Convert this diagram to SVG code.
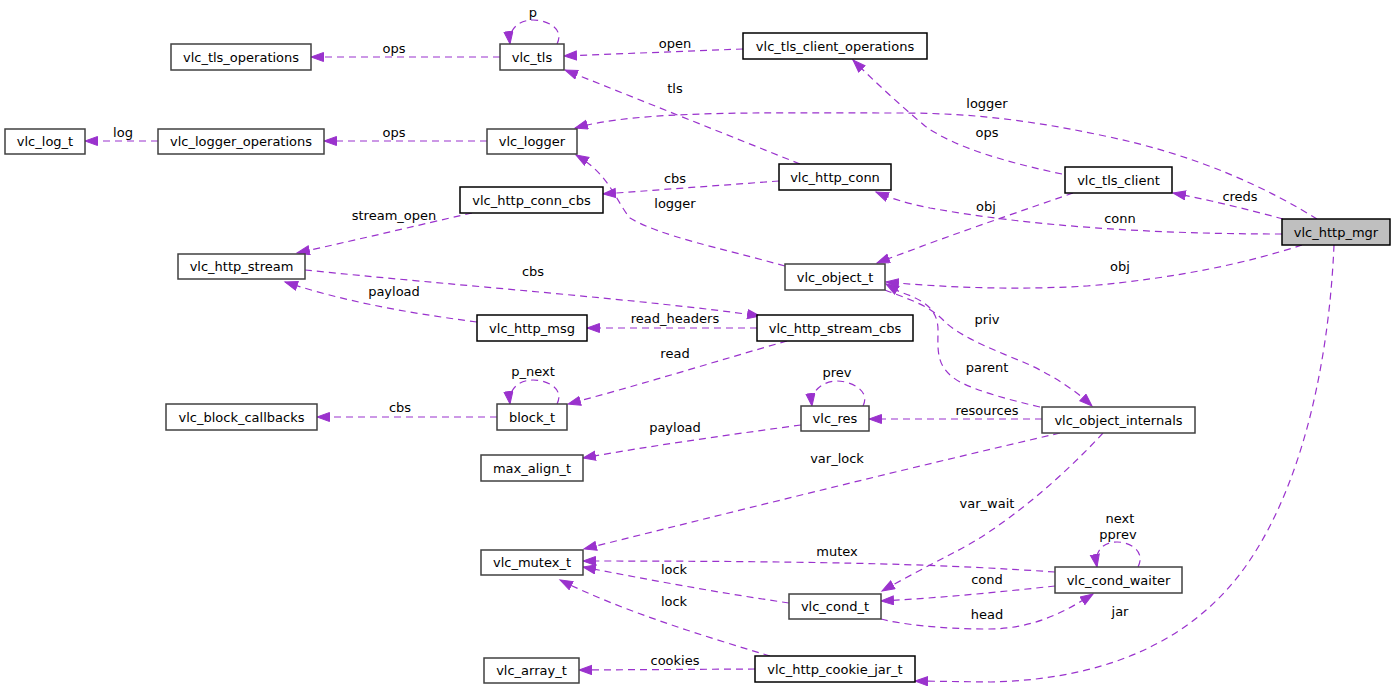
<svg xmlns="http://www.w3.org/2000/svg" width="1395" height="689" viewBox="0 0 1395 689">
<style>
  text { font-family: "DejaVu Sans", "Liberation Sans", sans-serif; font-size: 13px; fill: #000; text-anchor: middle; }
  .n rect { fill: #fff; stroke: #404040; stroke-width: 1.5; }
  .n.k rect { stroke: #000; }
  .n.cur rect { fill: #bfbfbf; stroke: #000; }
  .e { fill: none; stroke: #9a32cd; stroke-width: 1.2; stroke-dasharray: 7,5; marker-end: url(#ah); }
</style>
<defs>
  <marker id="ah" markerUnits="userSpaceOnUse" markerWidth="15" markerHeight="11" refX="13" refY="5" orient="auto" viewBox="0 0 15 11">
    <path d="M0.5,0.5 L13,5 L0.5,9.5 z" fill="#9a32cd" stroke="#9a32cd" stroke-width="1"/>
  </marker>
</defs>
<rect width="1395" height="689" fill="#fff"/>

<g id="connectors">
  <path class="e" d="M500,57 L311,57"/>
  <text x="394" y="53">ops</text>
  <path class="e" d="M557,44 C565,28 546,20 533,20 C520,20 508,28 510,44"/>
  <text x="533" y="17">p</text>
  <path class="e" d="M743,49 L564,56"/>
  <text x="675" y="48">open</text>
  <path class="e" d="M800,164 L565,70"/>
  <text x="675" y="93">tls</text>
  <path class="e" d="M1062,174 C1010,163 955,148 925,126 C900,105 875,82 853,60"/>
  <text x="987" y="137">ops</text>
  <path class="e" d="M1317,219 C1270,190 1200,155 1100,135 C1020,118 960,113 900,113 C760,113 640,110 575,128"/>
  <text x="987" y="108">logger</text>
  <path class="e" d="M487,141 L324,141"/>
  <text x="394" y="137">ops</text>
  <path class="e" d="M158,141 L85,141"/>
  <text x="123" y="137">log</text>
  <path class="e" d="M779,181 L603,194"/>
  <text x="675" y="183">cbs</text>
  <path class="e" d="M785,266 C720,248 660,236 630,218 C615,200 610,175 576,155"/>
  <text x="675" y="208">logger</text>
  <path class="e" d="M472,213 C440,220 400,230 297,253"/>
  <text x="394" y="220">stream_open</text>
  <path class="e" d="M305,270 C450,285 650,300 760,316"/>
  <text x="533" y="276">cbs</text>
  <path class="e" d="M477,322 C400,312 340,300 285,282"/>
  <text x="394" y="296">payload</text>
  <path class="e" d="M757,328 L587,328"/>
  <text x="675" y="323">read_headers</text>
  <path class="e" d="M787,341 C720,360 640,385 568,404"/>
  <text x="675" y="358">read</text>
  <path class="e" d="M557,404 C565,388 546,380 533,380 C520,380 508,388 510,404"/>
  <text x="533" y="376">p_next</text>
  <path class="e" d="M497,417 L317,417"/>
  <text x="400" y="412">cbs</text>
  <path class="e" d="M863,406 C871,390 850,381 837,381 C824,381 810,390 812,406"/>
  <text x="837" y="377">prev</text>
  <path class="e" d="M801,425 C720,436 650,446 583,458"/>
  <text x="675" y="432">payload</text>
  <path class="e" d="M1042,419 L869,419"/>
  <text x="987" y="415">resources</text>
  <path class="e" d="M885,290 C905,298 930,305 945,322 C965,340 1000,352 1030,365 C1055,377 1075,390 1092,406"/>
  <text x="987" y="324">priv</text>
  <path class="e" d="M1040,407 C1010,400 980,392 960,382 C935,368 938,350 938,330 C938,310 925,300 900,292 L886,284"/>
  <text x="987" y="372">parent</text>
  <path class="e" d="M1302,245 C1250,262 1180,278 1087,286 C1020,290 950,288 886,282"/>
  <text x="1120" y="271">obj</text>
  <path class="e" d="M1073,193 C1030,208 980,225 925,245 C910,251 895,256 877,263"/>
  <text x="986" y="211">obj</text>
  <path class="e" d="M1282,234 C1150,234 1030,226 930,208 C905,203 890,198 876,192"/>
  <text x="1120" y="223">conn</text>
  <path class="e" d="M1283,219 C1250,210 1210,200 1173,193"/>
  <text x="1240" y="201">creds</text>
  <path class="e" d="M1334,245 C1330,340 1310,470 1250,560 C1190,650 1090,680 990,682 L915,681"/>
  <text x="1120" y="616">jar</text>
  <path class="e" d="M1060,433 C900,470 720,515 584,549"/>
  <text x="837" y="463">var_lock</text>
  <path class="e" d="M1103,433 C1060,480 1000,530 953,553 C930,565 905,578 882,591"/>
  <text x="987" y="508">var_wait</text>
  <path class="e" d="M1055,572 C950,565 850,561 583,561"/>
  <text x="837" y="556">mutex</text>
  <path class="e" d="M1055,586 C1000,592 940,598 881,601"/>
  <text x="987" y="584">cond</text>
  <path class="e" d="M881,619 C900,624 940,629 987,629 C1030,629 1060,615 1093,594"/>
  <text x="987" y="619">head</text>
  <path class="e" d="M1138,567 C1146,551 1130,542 1117,542 C1104,542 1094,550 1097,567"/>
  <text x="1120" y="523">next</text>
  <text x="1118" y="539">pprev</text>
  <path class="e" d="M789,603 C720,593 650,580 583,567"/>
  <text x="674" y="574">lock</text>
  <path class="e" d="M770,656 C700,635 620,610 560,580"/>
  <text x="674" y="606">lock</text>
  <path class="e" d="M755,669 L579,670"/>
  <text x="675" y="665">cookies</text>
</g>

<g id="n_vlc_http_mgr" class="n cur"><rect x="1282" y="219" width="108" height="26"/><text x="1336" y="236.5">vlc_http_mgr</text></g>
<g id="n_vlc_tls_operations" class="n"><rect x="171" y="44" width="140" height="26"/><text x="241" y="61.5">vlc_tls_operations</text></g>
<g id="n_vlc_log_t" class="n"><rect x="5" y="129" width="80" height="25"/><text x="45" y="146">vlc_log_t</text></g>
<g id="n_vlc_logger_operations" class="n"><rect x="158" y="129" width="166" height="25"/><text x="241" y="146">vlc_logger_operations</text></g>
<g id="n_vlc_tls" class="n"><rect x="500" y="44" width="64" height="26"/><text x="532" y="61.5">vlc_tls</text></g>
<g id="n_vlc_tls_client_operations" class="n k"><rect x="743" y="33" width="184" height="26"/><text x="835" y="50.5">vlc_tls_client_operations</text></g>
<g id="n_vlc_logger" class="n"><rect x="487" y="129" width="90" height="25"/><text x="532" y="146">vlc_logger</text></g>
<g id="n_vlc_http_conn_cbs" class="n k"><rect x="460" y="187" width="143" height="26"/><text x="531.5" y="204.5">vlc_http_conn_cbs</text></g>
<g id="n_vlc_http_conn" class="n k"><rect x="779" y="164" width="112" height="26"/><text x="835" y="181.5">vlc_http_conn</text></g>
<g id="n_vlc_tls_client" class="n k"><rect x="1065" y="167" width="107" height="26"/><text x="1118.5" y="184.5">vlc_tls_client</text></g>
<g id="n_vlc_http_stream" class="n"><rect x="178" y="254" width="127" height="25"/><text x="241.5" y="271">vlc_http_stream</text></g>
<g id="n_vlc_block_callbacks" class="n"><rect x="166" y="404" width="151" height="26"/><text x="241.5" y="421.5">vlc_block_callbacks</text></g>
<g id="n_vlc_object_t" class="n"><rect x="785" y="264" width="100" height="26"/><text x="835" y="281.5">vlc_object_t</text></g>
<g id="n_vlc_http_msg" class="n k"><rect x="477" y="315" width="110" height="26"/><text x="532" y="332.5">vlc_http_msg</text></g>
<g id="n_vlc_http_stream_cbs" class="n k"><rect x="757" y="315" width="156" height="26"/><text x="835" y="332.5">vlc_http_stream_cbs</text></g>
<g id="n_block_t" class="n"><rect x="497" y="404" width="70" height="26"/><text x="532" y="421.5">block_t</text></g>
<g id="n_vlc_res" class="n"><rect x="801" y="406" width="68" height="25"/><text x="835" y="423">vlc_res</text></g>
<g id="n_max_align_t" class="n"><rect x="481" y="455" width="102" height="26"/><text x="532" y="472.5">max_align_t</text></g>
<g id="n_vlc_object_internals" class="n"><rect x="1042" y="407" width="153" height="26"/><text x="1118.5" y="424.5">vlc_object_internals</text></g>
<g id="n_vlc_cond_waiter" class="n"><rect x="1055" y="567" width="127" height="26"/><text x="1118.5" y="584.5">vlc_cond_waiter</text></g>
<g id="n_vlc_mutex_t" class="n"><rect x="481" y="550" width="102" height="25"/><text x="532" y="567">vlc_mutex_t</text></g>
<g id="n_vlc_cond_t" class="n"><rect x="789" y="594" width="92" height="25"/><text x="835" y="611">vlc_cond_t</text></g>
<g id="n_vlc_array_t" class="n"><rect x="484" y="658" width="95" height="25"/><text x="531.5" y="675">vlc_array_t</text></g>
<g id="n_vlc_http_cookie_jar_t" class="n k"><rect x="755" y="656" width="160" height="26"/><text x="835" y="673.5">vlc_http_cookie_jar_t</text></g>
</svg>
